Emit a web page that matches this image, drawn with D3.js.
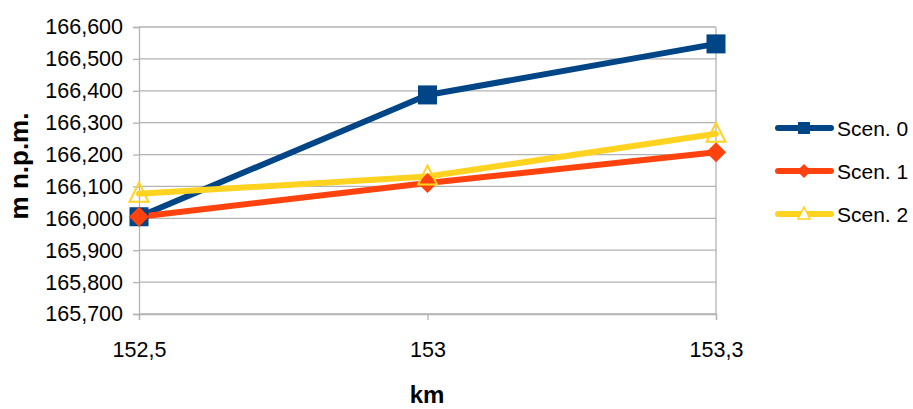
<!DOCTYPE html>
<html><head><meta charset="utf-8">
<script src="https://cdn.jsdelivr.net/npm/d3@7"></script>
<style>body{margin:0;background:#fff}svg{display:block}text{font-family:"Liberation Sans",Arial,sans-serif}</style>
</head><body><svg id="c" width="913" height="409"></svg>
<script>
const categories = ["152,5", "153", "153,3"];
const seriesNames = ["Scen. 0", "Scen. 1", "Scen. 2"];
const scen0 = [166.005, 166.387, 166.547];
const scen1 = [166.005, 166.111, 166.207];
const scen2 = [166.077, 166.131, 166.265];
const yTicks = [165.7, 165.8, 165.9, 166.0, 166.1, 166.2, 166.3, 166.4, 166.5, 166.6];
const colors = ["#004586", "#ff420e", "#ffd320"];
const symbols = ["square", "diamond", "triangle"];

const svg = d3.select("#c");
const L = 139, R = 716, T = 27, B = 314;
const x = d3.scalePoint().domain(categories).range([L, R]);
const y = d3.scaleLinear().domain([165.7, 166.6]).range([B, T]);
const fmt = v => { const s = v.toFixed(3).split("."); return s[0] + "," + s[1]; };

// gridlines
svg.append("g").selectAll("line").data(yTicks).join("line")
  .attr("x1", L).attr("x2", R).attr("y1", d => y(d)).attr("y2", d => y(d))
  .attr("stroke", "#b3b3b3").attr("stroke-width", 1.3);
svg.append("line").attr("x1", R).attr("x2", R).attr("y1", T).attr("y2", B).attr("stroke", "#b3b3b3").attr("stroke-width", 1.3);

// y axis
const ya = svg.append("g").attr("transform", `translate(${L},0)`)
  .call(d3.axisLeft(y).tickValues(yTicks).tickFormat(fmt).tickSize(6).tickPadding(10));
ya.select(".domain").attr("stroke", "#b3b3b3").attr("stroke-width", 1.3);
ya.selectAll(".tick line").attr("stroke", "#b3b3b3").attr("stroke-width", 1.3);
ya.selectAll("text").attr("font-size", 21.5).attr("fill", "#000").attr("font-family", "Liberation Sans, Arial, sans-serif");

// x axis
const xa = svg.append("g").attr("transform", `translate(0,${B})`)
  .call(d3.axisBottom(x).tickSize(6).tickPadding(22));
xa.select(".domain").attr("stroke", "#b3b3b3").attr("stroke-width", 1.3);
xa.selectAll(".tick line").attr("stroke", "#b3b3b3").attr("stroke-width", 1.3);
xa.selectAll("text").attr("font-size", 21.5).attr("fill", "#000").attr("font-family", "Liberation Sans, Arial, sans-serif");

// titles
svg.append("text").attr("transform", "translate(28,166) rotate(-90)").attr("text-anchor", "middle")
  .attr("font-size", 26).attr("font-weight", "bold").text("m  n.p.m.");
svg.append("text").attr("x", 427).attr("y", 403).attr("text-anchor", "middle")
  .attr("font-size", 24).attr("font-weight", "bold").text("km");

const data = [scen0, scen1, scen2];
const line = d3.line().x((d, i) => x(categories[i])).y(d => y(d));
data.forEach((s, k) => {
  svg.append("path").datum(s).attr("d", line).attr("fill", "none")
    .attr("stroke", colors[k]).attr("stroke-width", 6).attr("stroke-linejoin", "round").attr("stroke-linecap", "round");
});

function marker(g, type, cx, cy, col) {
  if (type === "square") {
    g.append("rect").attr("x", cx - 9.5).attr("y", cy - 9.5).attr("width", 19).attr("height", 19).attr("fill", col);
  } else if (type === "diamond") {
    g.append("path").attr("d", `M${cx},${cy-10}L${cx+10},${cy}L${cx},${cy+10}L${cx-10},${cy}Z`).attr("fill", col);
  } else {
    g.append("path").attr("d", `M${cx},${cy-11}L${cx+9.5},${cy+8}L${cx-9.5},${cy+8}Z`)
      .attr("fill", "none").attr("stroke", col).attr("stroke-width", 2);
  }
}
const mg = svg.append("g");
data.forEach((s, k) => {
  s.forEach((v, i) => marker(mg, symbols[k], x(categories[i]), y(v), colors[k]));
});

// legend
const ly = [128, 171, 214];
seriesNames.forEach((n, k) => {
  const g = svg.append("g");
  g.append("line").attr("x1", 778).attr("x2", 831).attr("y1", ly[k]).attr("y2", ly[k])
    .attr("stroke", colors[k]).attr("stroke-width", 6).attr("stroke-linecap", "round");
  if (symbols[k] === "square") g.append("rect").attr("x", 798).attr("y", ly[k] - 6).attr("width", 12).attr("height", 12).attr("fill", colors[k]);
  else if (symbols[k] === "diamond") g.append("path").attr("d", `M804,${ly[k]-7}L811,${ly[k]}L804,${ly[k]+7}L797,${ly[k]}Z`).attr("fill", colors[k]);
  else g.append("path").attr("d", `M804,${ly[k]-7}L810,${ly[k]+5}L798,${ly[k]+5}Z`).attr("fill", "#fff").attr("stroke", colors[k]).attr("stroke-width", 1.6);
  g.append("text").attr("x", 837).attr("y", ly[k] + 7.5).attr("font-size", 21).text(n);
});
</script></body></html>
